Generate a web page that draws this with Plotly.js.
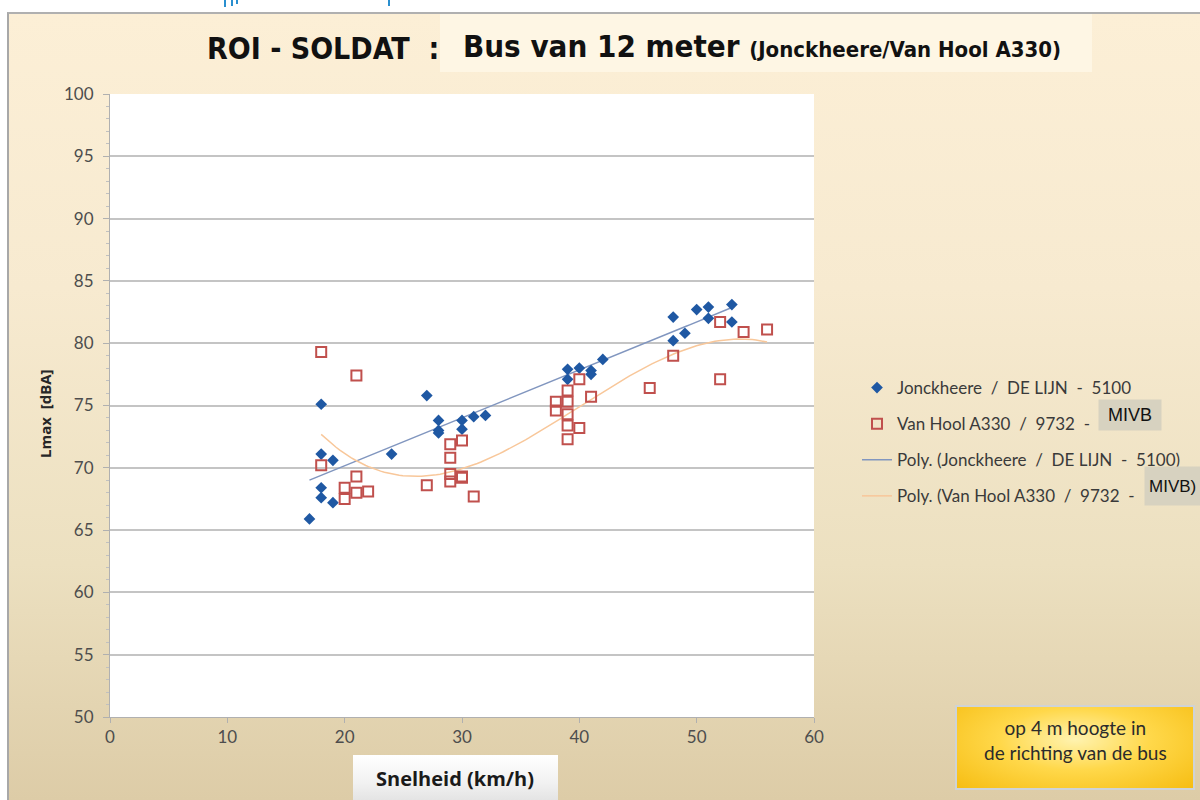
<!DOCTYPE html>
<html>
<head>
<meta charset="utf-8">
<script src="https://cdn.plot.ly/plotly-3.0.1.min.js"></script>
<style>
  html, body { margin:0; padding:0; background:#ffffff; }
  #wrap { position:relative; width:1200px; height:800px; overflow:hidden; background:#ffffff; }
  #bg { position:absolute; left:7px; top:12px; width:1193px; height:788px;
        background:linear-gradient(to bottom, #fcefd6 0%, #f7ead0 35%, #ece0c0 70%, #ddcca7 100%);
        border-left:2px solid #a8a8a8; border-top:2px solid #b0b0b0; box-sizing:border-box; }
  #titlebox { position:absolute; left:440px; top:14px; width:652px; height:58px; background:#fef6e4; }
  #xtbox { position:absolute; left:353px; top:755px; width:205px; height:45px;
           background:linear-gradient(to bottom, #ffffff 0%, #f2f2f2 60%, #e4e4e4 100%); }
  #ybox { position:absolute; left:955px; top:705px; width:240px; height:85px; box-sizing:border-box;
          border:2px solid #cfd3d6;
          background:radial-gradient(ellipse at 50% 40%, #fff3b0 0%, #ffd84a 45%, #f6bd12 100%); }
  .frag { position:absolute; top:0; background:#2a8fcf; }
  #plot { position:absolute; left:0; top:0; width:1200px; height:800px; }
</style>
</head>
<body>
<div id="wrap">
  <div id="bg"></div>
  <div id="titlebox"></div>
  <div id="xtbox"></div>
  <div id="ybox"></div>
  <div class="frag" style="left:224px;width:2px;height:7px;"></div>
  <div class="frag" style="left:231px;width:2px;height:6px;"></div>
  <div class="frag" style="left:236px;width:2px;height:4px;"></div>
  <div class="frag" style="left:388px;width:2px;height:6px;"></div>
  <div id="plot"></div>
</div>
<script>
// ---- Data ----
const jonckheereSpeed = [17, 18, 18, 18, 18, 19, 19, 24, 27, 28, 28, 28, 30, 30, 31, 32,
                         39, 39, 40, 41, 41, 42, 48, 48, 49, 50, 51, 51, 53, 53];
const jonckheereLmax  = [65.9, 75.1, 71.1, 68.4, 67.6, 70.6, 67.2, 71.1, 75.8, 73.8, 73.0, 72.8, 73.8, 73.1, 74.1, 74.2,
                         77.9, 77.1, 78.0, 77.8, 77.5, 78.7, 82.1, 80.2, 80.8, 82.7, 82.9, 82.0, 83.1, 81.7];

const vanHoolSpeed = [18, 21, 18, 21, 20, 21, 22, 20, 27, 29, 30, 29, 29, 29, 30, 30, 31,
                      38, 38, 39, 39, 39, 39, 39, 40, 40, 41, 46, 48, 52, 52, 54, 56];
const vanHoolLmax  = [79.3, 77.4, 70.2, 69.3, 68.4, 68.0, 68.1, 67.5, 68.6, 71.9, 72.2, 70.8, 69.5, 68.9, 69.3, 69.2, 67.7,
                      75.3, 74.6, 76.2, 75.3, 74.3, 73.4, 72.3, 77.1, 73.2, 75.7, 76.4, 79.0, 81.7, 77.1, 80.9, 81.1];

const seriesNames = ["Jonckheere\u00a0 /\u00a0 DE LIJN\u00a0 -\u00a0 5100",
                     "Van Hool A330\u00a0 /\u00a0 9732\u00a0 -\u00a0 ",
                     "Poly. (Jonckheere\u00a0 /\u00a0 DE LIJN\u00a0 -\u00a0 5100)",
                     "Poly. (Van Hool A330\u00a0 /\u00a0 9732\u00a0 -\u00a0 "];
const polyOrders = [2, 3];   // Excel "Poly." trendline orders
const xTicks = [0, 10, 20, 30, 40, 50, 60];
const yTicks = [50, 55, 60, 65, 70, 75, 80, 85, 90, 95, 100];

// ---- least-squares polynomial trendline computed from the data ----
function polyfit(xs, ys, order) {
  const n = order + 1;
  const A = [], b = [];
  for (let i = 0; i < n; i++) { A.push(new Array(n).fill(0)); b.push(0); }
  for (let k = 0; k < xs.length; k++) {
    for (let i = 0; i < n; i++) {
      b[i] += ys[k] * Math.pow(xs[k], i);
      for (let j = 0; j < n; j++) A[i][j] += Math.pow(xs[k], i + j);
    }
  }
  for (let c = 0; c < n; c++) {
    let p = c;
    for (let r = c + 1; r < n; r++) if (Math.abs(A[r][c]) > Math.abs(A[p][c])) p = r;
    [A[c], A[p]] = [A[p], A[c]]; [b[c], b[p]] = [b[p], b[c]];
    for (let r = c + 1; r < n; r++) {
      const f = A[r][c] / A[c][c];
      for (let j = c; j < n; j++) A[r][j] -= f * A[c][j];
      b[r] -= f * b[c];
    }
  }
  const coef = new Array(n).fill(0);
  for (let i = n - 1; i >= 0; i--) {
    let s = b[i];
    for (let j = i + 1; j < n; j++) s -= A[i][j] * coef[j];
    coef[i] = s / A[i][i];
  }
  return coef;
}
function trend(xs, ys, order) {
  const c = polyfit(xs, ys, order);
  const lo = Math.min(...xs), hi = Math.max(...xs);
  const tx = [], ty = [];
  for (let i = 0; i <= 120; i++) {
    const x = lo + (hi - lo) * i / 120;
    let y = 0;
    for (let k = 0; k < c.length; k++) y += c[k] * Math.pow(x, k);
    tx.push(x); ty.push(y);
  }
  return {x: tx, y: ty};
}
const tJ = trend(jonckheereSpeed, jonckheereLmax, polyOrders[0]);
const tV = trend(vanHoolSpeed, vanHoolLmax, polyOrders[1]);

const traces = [
  {x: jonckheereSpeed, y: jonckheereLmax, type: 'scatter', mode: 'markers', name: seriesNames[0],
   legendgroup: 'a', marker: {symbol: 'diamond', size: 9, color: '#1f58a3'}},
  {x: vanHoolSpeed, y: vanHoolLmax, type: 'scatter', mode: 'markers', name: seriesNames[1],
   legendgroup: 'b', marker: {symbol: 'square-open', size: 10, color: '#c0504d', line: {width: 2, color: '#c0504d'}}},
  {x: tJ.x, y: tJ.y, type: 'scatter', mode: 'lines', name: seriesNames[2], legendgroup: 'c',
   line: {color: '#8196bf', width: 1.5}},
  {x: tV.x, y: tV.y, type: 'scatter', mode: 'lines', name: seriesNames[3], legendgroup: 'd',
   line: {color: '#f8c79a', width: 1.5}}
];
// draw lines beneath markers, keep legend order
const ordered = [traces[2], traces[3], traces[0], traces[1]];
ordered.forEach(t => t.legendrank = traces.indexOf(t) + 1);

const PX = v => (v - 110) / 704;     // page px -> paper x
const PY = v => (717 - v) / 623;     // page px -> paper y
const titleFont = '"DejaVu Sans Condensed", "Liberation Sans Narrow", sans-serif';

const layout = {
  width: 1200, height: 800,
  margin: {l: 110, r: 386, t: 94, b: 83},
  paper_bgcolor: 'rgba(0,0,0,0)',
  plot_bgcolor: '#ffffff',
  showlegend: true,
  font: {family: 'Lato, "Open Sans", sans-serif', color: '#404040'},
  xaxis: {
    range: [0, 60], tickvals: xTicks, ticktext: xTicks.map(String),
    showgrid: false, zeroline: false, showline: true, linecolor: '#b0b0b0', linewidth: 1,
    ticks: 'outside', ticklen: 5, tickcolor: '#b0b0b0',
    tickfont: {family: 'Lato, sans-serif', size: 17, color: '#4d4d4d'}
  },
  yaxis: {
    range: [50, 100], tickvals: yTicks, ticktext: yTicks.map(String),
    showgrid: true, gridcolor: '#c4c4c4', gridwidth: 2, zeroline: false,
    showline: true, linecolor: '#b0b0b0', linewidth: 1,
    ticks: 'outside', ticklen: 6, tickcolor: '#b0b0b0',
    minor: {dtick: 1, ticks: 'outside', ticklen: 3, tickcolor: '#c0c0c0', showgrid: false},
    tickfont: {family: 'Lato, sans-serif', size: 17, color: '#4d4d4d'},
    ticklabelstandoff: 6
  },
  legend: {
    x: PX(857), y: PY(370), xanchor: 'left', yanchor: 'top',
    bgcolor: 'rgba(0,0,0,0)', borderwidth: 0,
    traceorder: 'grouped', tracegroupgap: 11,
    font: {family: 'Lato, sans-serif', size: 17, color: '#3a3a3a'}
  },
  annotations: [
    {xref: 'paper', yref: 'paper', x: PX(323), y: PY(49), text: '<b>ROI - SOLDAT\u00a0 :</b>',
     showarrow: false, xanchor: 'center', yanchor: 'middle',
     font: {family: titleFont, size: 30, color: '#111111'}},
    {xref: 'paper', yref: 'paper', x: PX(461), y: PY(46),
     text: '<b>Bus van 12 meter <span style="font-size:22px">(Jonckheere/Van Hool A330)</span></b>',
     showarrow: false, xanchor: 'left', yanchor: 'middle',
     font: {family: titleFont, size: 31, color: '#111111'}},
    {xref: 'paper', yref: 'paper', x: PX(45), y: PY(414), text: '<b>Lmax\u00a0 [dBA]</b>', textangle: -90,
     showarrow: false, xanchor: 'center', yanchor: 'middle',
     font: {family: '"Open Sans", sans-serif', size: 15, color: '#262626'}},
    {xref: 'paper', yref: 'paper', x: PX(455), y: PY(778), text: '<b>Snelheid (km/h)</b>',
     showarrow: false, xanchor: 'center', yanchor: 'middle',
     font: {family: '"Open Sans", sans-serif', size: 20, color: '#1a1a1a'}},
    {xref: 'paper', yref: 'paper', x: PX(1075), y: PY(740), text: 'op 4 m hoogte in<br>de richting van de bus',
     showarrow: false, xanchor: 'center', yanchor: 'middle', align: 'center',
     font: {family: 'Lato, sans-serif', size: 19, color: '#2b2b2b'}},
    {xref: 'paper', yref: 'paper', x: PX(1098), y: PY(415), text: 'MIVB',
     showarrow: false, xanchor: 'left', yanchor: 'middle', bgcolor: '#d7d2c0', borderpad: 3,
     width: 56, height: 24, align: 'center',
     font: {family: '"Liberation Sans", Arial, sans-serif', size: 18, color: '#111111'}},
    {xref: 'paper', yref: 'paper', x: PX(1144), y: PY(486), text: 'MIVB)',
     showarrow: false, xanchor: 'left', yanchor: 'middle', bgcolor: '#d7d2c0', borderpad: 4,
     width: 54, height: 30, align: 'left',
     font: {family: '"Liberation Sans", Arial, sans-serif', size: 17, color: '#111111'}}
  ]
};

Plotly.newPlot('plot', ordered, layout, {displayModeBar: false, staticPlot: true});
</script>
</body>
</html>
